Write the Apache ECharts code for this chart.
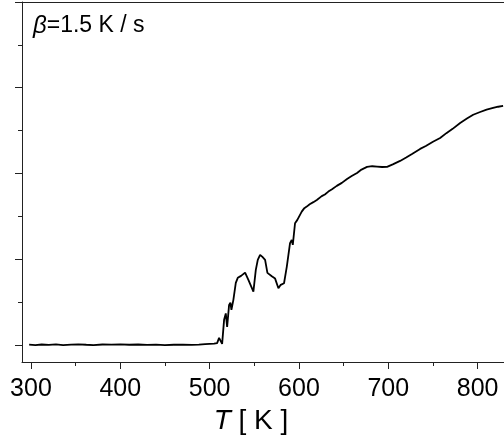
<!DOCTYPE html>
<html>
<head>
<meta charset="utf-8">
<script src="https://cdn.jsdelivr.net/npm/echarts@6/dist/echarts.min.js"></script>
<style>html,body{margin:0;padding:0;background:#fff}#c{width:504px;height:436px}</style>
</head>
<body>
<div id="c"></div>
<script>
// Temperature T [K]
const temps = [298,305,312,320,328,336,345,353,362,370,380,390,400,410,420,430,440,450,460,470,480,488,495,500,505,508.4,
  510.6,514.0,516.2,518.1,519.6,521.8,523.3,524.4,526.6,529.3,531.5,535.2,539.7,543.4,549.0,551.7,553.9,556.5,559.1,562.1,564.7,569.6,573.3,577.0,579.6,583.3,586.4,590.0,591.9,593.1,595.6,598.2,
  603.1,606,608.7,612,616.1,620,625.5,629,632.9,637,642.3,648,653.8,659,665,670,676.2,682,687.4,693,698.6,705,713.2,720,727,735.6,742,750,758,765,772,780.4,788,795,802.8,810,817.3,823,828.5];
// Signal (arb. units)
const signal = [0.003,-0.002,0.004,0.0,0.005,-0.003,0.002,0.006,0.001,-0.002,0.004,0.002,0.005,0.001,0.004,0.0,0.003,-0.002,0.001,0.003,0.0,0.002,0.008,0.012,0.015,0.02,
  0.082,0.012,0.292,0.367,0.210,0.466,0.493,0.408,0.525,0.723,0.782,0.805,0.843,0.758,0.622,0.875,0.991,1.050,1.026,0.991,0.840,0.800,0.773,0.661,0.700,0.719,0.913,1.186,1.224,1.166,1.419,1.458,
  1.554,1.595,1.613,1.640,1.665,1.690,1.735,1.755,1.788,1.815,1.855,1.890,1.936,1.970,2.006,2.045,2.076,2.084,2.080,2.075,2.076,2.105,2.146,2.185,2.230,2.286,2.320,2.370,2.414,2.470,2.520,2.589,2.640,2.685,2.717,2.745,2.764,2.778,2.787];
const xMajor = [300,400,500,600,700,800];
const xMinor = [350,450,550,650,750];
const yMajor = [0,1,2,3,4];
const yMinor = [0.5,1.5,2.5,3.5];
const rateLabel = '{i|β}=1.5 K / s';

const FONT = "'Liberation Sans', Arial, sans-serif";
const AX = '#222';
const chart = echarts.init(document.getElementById('c'), null, {renderer:'canvas'});
const xr = {min:290, max:829.5};
const yr = {min:-0.2, max:4};
chart.setOption({
  animation:false,
  backgroundColor:'#fff',
  grid:{left:22, right:0, top:2, bottom:74, containLabel:false, outerBoundsMode:'none'},
  xAxis:[
    {type:'value', position:'bottom', ...xr,
     axisLine:{show:true, onZero:false, lineStyle:{color:AX, width:1}},
     axisTick:{show:true, inside:false, length:7, customValues:xMajor, lineStyle:{color:AX}},
     axisLabel:{show:true, customValues:xMajor, margin:15, fontSize:25, color:'#000', fontFamily:FONT},
     splitLine:{show:false},
     name:'{i|T} [ K ]', nameLocation:'middle', nameGap:35,
     nameTextStyle:{fontSize:28, color:'#000', fontFamily:FONT, padding:[0,24,0,0],
       rich:{i:{fontStyle:'italic', fontSize:28, fontFamily:FONT, color:'#000'}}}},
    {type:'value', position:'bottom', ...xr,
     axisLine:{show:false, onZero:false},
     axisTick:{show:true, length:4, customValues:xMinor, lineStyle:{color:AX}},
     axisLabel:{show:false}, splitLine:{show:false}},
    {type:'value', position:'top', ...xr,
     axisLine:{show:true, onZero:false, lineStyle:{color:AX, width:1}},
     axisTick:{show:false}, axisLabel:{show:false}, splitLine:{show:false}}
  ],
  yAxis:[
    {type:'value', position:'left', ...yr,
     axisLine:{show:true, onZero:false, lineStyle:{color:AX, width:1}},
     axisTick:{show:true, length:7, customValues:yMajor, lineStyle:{color:AX}},
     axisLabel:{show:false}, splitLine:{show:false}},
    {type:'value', position:'left', ...yr,
     axisLine:{show:false, onZero:false},
     axisTick:{show:true, length:4, customValues:yMinor, lineStyle:{color:AX}},
     axisLabel:{show:false}, splitLine:{show:false}}
  ],
  graphic:[
    {type:'text', left:33, top:14, style:{text:rateLabel, font:'23px ' + FONT, fill:'#000',
      rich:{i:{fontStyle:'italic', fontSize:24, fontFamily:FONT, fill:'#000'}}}}
  ],
  series:[
    {type:'line', xAxisIndex:0, yAxisIndex:0, showSymbol:false, symbol:'none',
     lineStyle:{color:'#000', width:1.8},
     data: temps.map((t,i)=>[t, signal[i]])}
  ]
});
</script>
</body>
</html>
